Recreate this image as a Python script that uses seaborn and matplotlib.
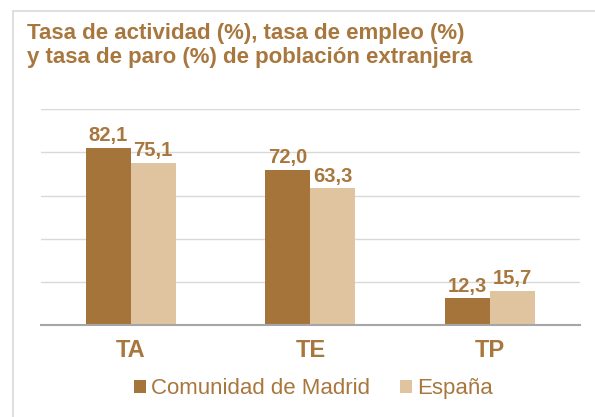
import pandas as pd
import seaborn as sns
import matplotlib.pyplot as plt
from matplotlib.lines import Line2D

# chart data
categories = ["TA", "TE", "TP"]
series_names = ["Comunidad de Madrid", "España"]
madrid = [82.1, 72.0, 12.3]
espana = [75.1, 63.3, 15.7]

brown = "#A5743A"
beige = "#E0C4A0"
text_brown = "#A8773D"

data = pd.DataFrame({
    "indicador": categories * 2,
    "zona": [series_names[0]] * 3 + [series_names[1]] * 3,
    "valor": madrid + espana,
})

sns.set_theme(style="white")
plt.rcParams["font.family"] = ["Liberation Sans", "DejaVu Sans"]

fig = plt.figure(figsize=(5.95, 4.17), dpi=100)
ax = fig.add_axes([0.0684, 0.2206, 0.9064, 0.5173])

sns.barplot(data=data, x="indicador", y="valor", hue="zona", order=categories,
            hue_order=series_names, palette=[brown, beige], width=0.5, gap=0,
            saturation=1, linewidth=0, ax=ax)

for cont in ax.containers:
    labels = [f"{v:.1f}".replace(".", ",") for v in cont.datavalues]
    ax.bar_label(cont, labels=labels, padding=2, fontsize=14.5, fontweight="bold",
                 color=text_brown)

ax.set_ylim(0, 100)
ax.set_xlim(-0.5, 2.5)
ax.set_yticks([20, 40, 60, 80, 100])
ax.set_yticklabels([])
ax.yaxis.grid(True, color="#D9D9D9", linewidth=1)
ax.set_axisbelow(True)
ax.set_xlabel("")
ax.set_ylabel("")
ax.tick_params(axis="x", length=0, pad=10, labelsize=17, labelcolor=text_brown)
ax.tick_params(axis="y", length=0)
for lab in ax.get_xticklabels():
    lab.set_fontweight("bold")
for side in ["top", "right", "left"]:
    ax.spines[side].set_visible(False)
ax.spines["bottom"].set_color("#A6A6A6")
ax.spines["bottom"].set_linewidth(1.5)

handles, lbls = ax.get_legend_handles_labels()
ax.legend(handles, lbls, loc="center", bbox_to_anchor=(0.527, 0.068),
          bbox_transform=fig.transFigure, ncol=2, frameon=False, fontsize=16,
          handlelength=0.52, handleheight=0.52, handletextpad=0.25,
          columnspacing=1.35, labelcolor=text_brown, borderpad=0)

# title in two lines
fig.text(0.0459, 0.9058, "Tasa de actividad (%), tasa de empleo (%)", fontsize=16,
         fontweight="bold", color=text_brown, va="baseline")
fig.text(0.0459, 0.8482, "y tasa de paro (%) de población extranjera", fontsize=16,
         fontweight="bold", color=text_brown, va="baseline")

# light frame around the chart
fig.add_artist(Line2D([0.0213, 1.0], [0.9744, 0.9744], color="#D9D9D9", linewidth=1.2))
fig.add_artist(Line2D([0.0213, 0.0213], [0.0, 0.9744], color="#D9D9D9", linewidth=1.2))

fig.savefig("out.png", dpi=100)
